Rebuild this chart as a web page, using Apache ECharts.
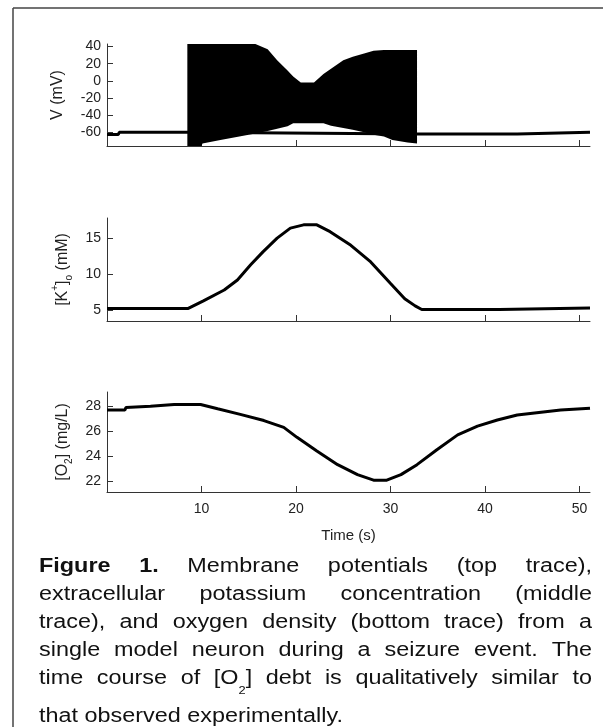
<!DOCTYPE html>
<html>
<head>
<meta charset="utf-8">
<script src="https://cdn.jsdelivr.net/npm/echarts@6/dist/echarts.min.js"></script>
<style>
  html, body { margin: 0; padding: 0; background: #fff; }
  #chart { width: 603px; height: 727px; }
</style>
</head>
<body>
<div id="chart"></div>
<script>
// time ticks shared by all three panels
const timeTicks = [10, 20, 30, 40, 50]

// membrane potential: resting trace and envelope of the spike burst
const restTime  = [0, 1.2, 1.3, 8.5, 32.8, 43.4, 43.5, 51.1]
const restV     = [-62.5, -62.5, -60, -60, -62, -62, -60, -60]
const spikeTime  = [8.5, 10.0, 10.1, 12, 14, 15.7, 17, 18, 19.1, 19.7, 20.5, 21.9, 22.9, 23.7, 25, 26, 27.2, 28.2, 29.3, 30.2, 31.8, 32.8]
const spikeUpper = [43, 43, 43, 43, 43, 43, 37, 24, 12, 5, -2, -2, 8, 14, 24, 28, 32, 35, 36, 36, 36, 36]
const spikeLower = [-76, -76, -73, -69, -65, -61.5, -58.5, -56, -53, -49.5, -49.5, -49.5, -49.5, -52.5, -55, -57, -60, -62.8, -65, -69, -72, -73]
const vTicks = [-60, -40, -20, 0, 20, 40]

// extracellular potassium
const kTime = [0, 8.6, 10.2, 12.4, 13.8, 15.2, 16.5, 18.0, 19.4, 20.8, 22.2, 23.6, 25.8, 27.9, 30.0, 31.5, 32.6, 33.3, 41.5, 41.6, 51.1]
const kVal  = [5.25, 5.25, 6.3, 7.8, 9.2, 11.3, 13.1, 15.0, 16.4, 16.85, 16.85, 15.9, 14.0, 11.7, 8.7, 6.6, 5.6, 5.1, 5.1, 5.3, 5.3]
const kTicks = [5, 10, 15]

// oxygen
const oTime = [0, 1.9, 2.0, 4.6, 7.1, 9.9, 11.7, 14.1, 16.6, 18.7, 20.1, 22.2, 24.4, 26.5, 28.2, 29.6, 31.1, 32.8, 34.9, 37.1, 39.2, 41.3, 43.4, 45.7, 48, 51.1]
const oVal  = [27.7, 27.7, 27.9, 28.0, 28.15, 28.15, 27.8, 27.35, 26.85, 26.3, 25.5, 24.4, 23.3, 22.5, 22.05, 22.05, 22.5, 23.3, 24.5, 25.7, 26.4, 26.9, 27.3, 27.5, 27.7, 27.85]
const oTicks = [22, 24, 26, 28]

const captionLines = [
  'Figure 1. Membrane potentials (top trace),',
  'extracellular potassium concentration (middle',
  'trace), and oxygen density (bottom trace) from a',
  'single model neuron during a seizure event. The',
  'time course of [O2] debt is qualitatively similar to',
  'that observed experimentally.'
]

const FONT = '"Liberation Sans", Arial, sans-serif'
const pairs = (xs, ys) => xs.map((x, i) => [x, ys[i]])

function xAxis(gridIndex, showLabel) {
  return {
    type: 'value', gridIndex, min: 0, max: 51.1,
    name: showLabel ? 'Time (s)' : '',
    nameLocation: 'middle', nameGap: 36,
    nameTextStyle: { fontFamily: FONT, fontSize: 15, color: '#222' },
    axisLine: { show: true, onZero: false, lineStyle: { color: '#333', width: 1 } },
    axisTick: { show: true, inside: true, length: 6, customValues: timeTicks, lineStyle: { color: '#333' } },
    axisLabel: { show: showLabel, customValues: timeTicks, margin: 10, fontFamily: FONT, fontSize: 14, color: '#222' },
    splitLine: { show: false },
  }
}

function yAxis(gridIndex, min, max, ticks, name) {
  return {
    type: 'value', gridIndex, min, max,
    name, nameLocation: 'middle', nameGap: 29,
    nameTextStyle: {
      fontFamily: FONT, fontSize: 16, color: '#222', lineHeight: 24,
      rich: {
        sup: { fontFamily: FONT, fontSize: 10, color: '#222', lineHeight: 10, verticalAlign: 'top' },
        sub: { fontFamily: FONT, fontSize: 10, color: '#222', lineHeight: 10, verticalAlign: 'bottom' },
      }
    },
    axisLine: { show: true, onZero: false, lineStyle: { color: '#333', width: 1 } },
    axisTick: { show: true, inside: true, length: 6, customValues: ticks, lineStyle: { color: '#333' } },
    axisLabel: { customValues: ticks, margin: 6, fontFamily: FONT, fontSize: 14, color: '#222' },
    splitLine: { show: false },
  }
}

function traceSeries(idx, data) {
  return {
    type: 'line', xAxisIndex: idx, yAxisIndex: idx, data,
    showSymbol: false, animation: false, z: 2,
    lineStyle: { color: '#000', width: 3 },
  }
}

// caption, justified by hand; the source text is a little wide, hence the stretch
const measure = document.createElement('canvas').getContext('2d')
const STRETCH = 1.17
function textWidth(text, size, bold) {
  measure.font = `${bold ? 'bold ' : ''}${size}px ${FONT}`
  return measure.measureText(text).width * STRETCH
}

function captionGraphics() {
  const left = 39, right = 592, size = 20
  const lineY = [566, 594, 622, 650, 678, 716]
  const out = []
  captionLines.forEach((line, li) => {
    const words = line.split(' ').map((w, wi) => {
      const bold = li === 0 && wi < 2
      let pieces
      if (w === '[O2]') {
        pieces = [
          { text: '[O', size, bold, dy: 0 },
          { text: '2', size: 11, bold, dy: 13 },
          { text: ']', size, bold, dy: 0 },
        ]
      } else {
        pieces = [{ text: w, size, bold, dy: 0 }]
      }
      const width = pieces.reduce((s, p) => s + textWidth(p.text, p.size, p.bold), 0)
      return { pieces, width }
    })
    const total = words.reduce((s, w) => s + w.width, 0)
    const last = li === captionLines.length - 1
    const gap = last ? textWidth(' ', size, false) : (right - left - total) / (words.length - 1)
    let x = left
    words.forEach(w => {
      let px = x
      w.pieces.forEach(p => {
        out.push({
          type: 'text', x: px, y: lineY[li] + p.dy, scaleX: STRETCH, silent: true,
          style: {
            text: p.text, fill: '#111', fontFamily: FONT, fontSize: p.size,
            fontWeight: p.bold ? 'bold' : 'normal', align: 'left', verticalAlign: 'middle',
          }
        })
        px += textWidth(p.text, p.size, p.bold)
      })
      x += w.width + gap
    })
  })
  return out
}

const chart = echarts.init(document.getElementById('chart'), null, { renderer: 'canvas' })

const option = {
  backgroundColor: '#fff',
  animation: false,
  grid: [
    { left: 107, top: 44, width: 483, height: 102 },
    { left: 107, top: 218, width: 483, height: 103 },
    { left: 107, top: 392, width: 483, height: 100 },
  ],
  xAxis: [xAxis(0, false), xAxis(1, false), xAxis(2, true)],
  yAxis: [
    yAxis(0, -76, 43, vTicks, 'V (mV)'),
    yAxis(1, 3.5, 17.8, kTicks, '[K{sup|+}]{sub|o} (mM)'),
    yAxis(2, 21.1, 29.15, oTicks, '[O{sub|2}] (mg/L)'),
  ],
  series: [
    traceSeries(0, pairs(restTime, restV)),
    {
      // spike burst drawn as the filled band between its envelopes
      type: 'custom', xAxisIndex: 0, yAxisIndex: 0, z: 3, animation: false,
      data: spikeTime.map((t, i) => [t, spikeUpper[i], spikeLower[i]]),
      encode: { x: 0, y: [1, 2] },
      renderItem(params, api) {
        if (params.dataIndex !== 0) return
        const pts = spikeTime.map((t, i) => api.coord([t, spikeUpper[i]]))
        for (let i = spikeTime.length - 1; i >= 0; i--) pts.push(api.coord([spikeTime[i], spikeLower[i]]))
        return { type: 'polygon', shape: { points: pts }, style: { fill: '#000' } }
      }
    },
    traceSeries(1, pairs(kTime, kVal)),
    traceSeries(2, pairs(oTime, oVal)),
  ],
  graphic: [
    { type: 'line', silent: true, shape: { x1: 13, y1: 8, x2: 603, y2: 8 }, style: { stroke: '#444', lineWidth: 1.5 } },
    { type: 'line', silent: true, shape: { x1: 13, y1: 8, x2: 13, y2: 727 }, style: { stroke: '#444', lineWidth: 1.5 } },
    ...captionGraphics(),
  ],
}

chart.setOption(option)
</script>
</body>
</html>
